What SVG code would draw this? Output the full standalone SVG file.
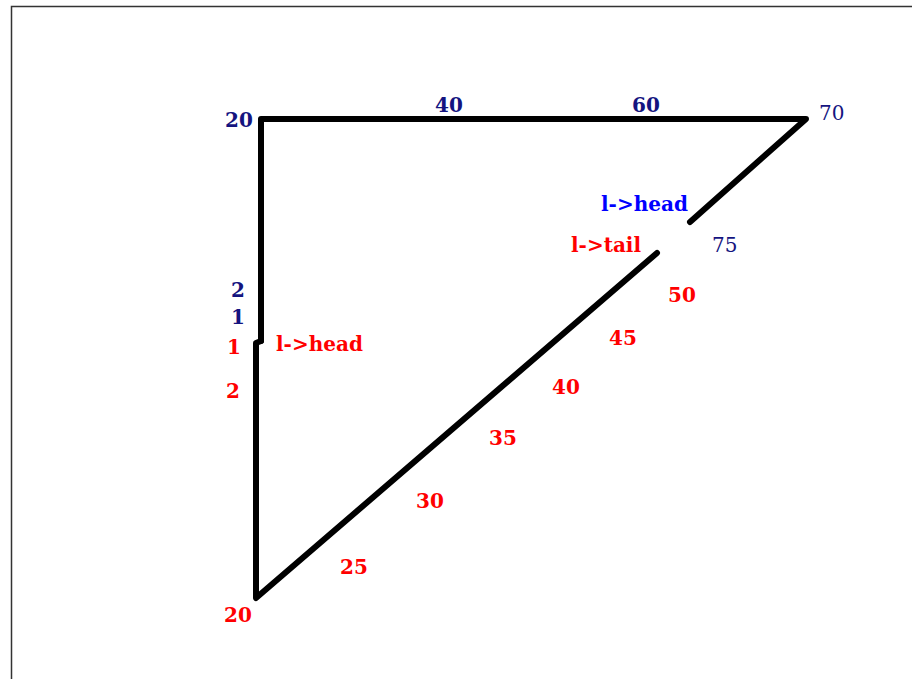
<svg xmlns="http://www.w3.org/2000/svg" width="912" height="679" viewBox="0 0 912 679">
<style>
.ln{fill:none;stroke:#000;stroke-width:6;stroke-linecap:round;stroke-linejoin:round}
.t{font-family:"DejaVu Serif","Liberation Serif",serif;font-size:20px;font-weight:bold}
.n{font-weight:normal}
.nv{fill:#14147f}
.bl{fill:#0000ff}
.rd{fill:#ff0000}
</style>
<rect width="912" height="679" fill="#fff"/>
<path d="M11.5,679 V6.5 H912" fill="none" stroke="#333" stroke-width="1.5"/>
<g id="connectors">
<path class="ln" d="M261,341 V119 H806 L690,222"/>
<path class="ln" d="M657,253 L256,598 V343 L261,341"/>
</g>
<g id="top-labels">
<text class="t nv" x="225" y="127">20</text>
<text class="t nv" x="435" y="112">40</text>
<text class="t nv" x="632" y="112">60</text>
<text class="t n nv" x="819" y="120">70</text>
<text class="t bl" x="601" y="211">l-&gt;head</text>
<text class="t n nv" x="712" y="252">75</text>
<text class="t nv" x="231" y="297">2</text>
<text class="t nv" x="231" y="324">1</text>
</g>
<g id="bottom-labels">
<text class="t rd" x="571" y="252">l-&gt;tail</text>
<text class="t rd" x="276" y="351">l-&gt;head</text>
<text class="t rd" x="227" y="354">1</text>
<text class="t rd" x="226" y="398">2</text>
<text class="t rd" x="224" y="622">20</text>
<text class="t rd" x="340" y="574">25</text>
<text class="t rd" x="416" y="508">30</text>
<text class="t rd" x="489" y="445">35</text>
<text class="t rd" x="552" y="394">40</text>
<text class="t rd" x="609" y="345">45</text>
<text class="t rd" x="668" y="302">50</text>
</g>
</svg>
